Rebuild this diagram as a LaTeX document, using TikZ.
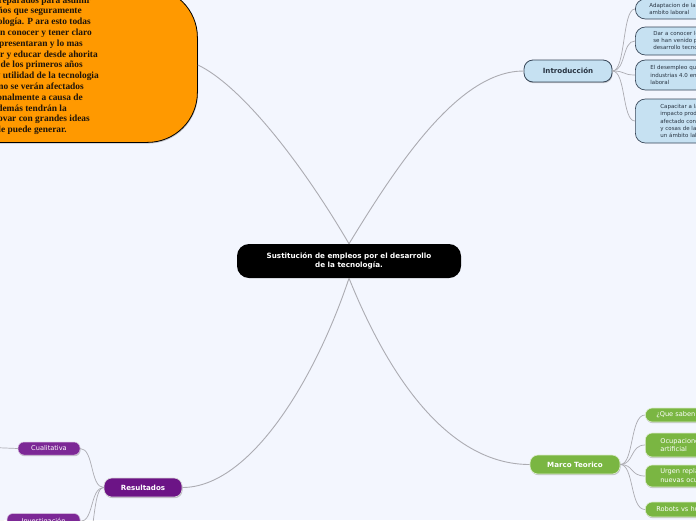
\documentclass[tikz,border=0pt]{standalone}
\usepackage{fontspec}
\setsansfont{DejaVu Sans}
\newfontfamily\timesfam{Liberation Serif}
\usetikzlibrary{shadows}
\definecolor{bgc}{RGB}{243,246,254}
\definecolor{connc}{RGB}{172,172,178}
\definecolor{introfill}{RGB}{198,225,242}
\definecolor{introline}{RGB}{55,70,88}
\definecolor{introtext}{RGB}{40,52,66}
\definecolor{greenfill}{RGB}{122,182,66}
\definecolor{purplefill}{RGB}{108,20,134}
\definecolor{purplechild}{RGB}{124,40,150}
\definecolor{orangefill}{RGB}{255,153,0}
\definecolor{orangetext}{RGB}{30,20,10}
\tikzset{
  conn/.style={draw=connc, line width=0.9pt},
  shad/.style={drop shadow={shadow xshift=0.6pt, shadow yshift=-1.2pt, opacity=0.35, fill=black!60}},
  centerbox/.style={fill=black, rounded corners=12pt, minimum width=224pt, minimum height=34pt,
    text=white, align=center, inner sep=0pt, font=\sffamily\bfseries\fontsize{7.2}{9}\selectfont},
  introbox/.style={shad, draw=introline, line width=0.8pt, fill=introfill, rounded corners=9pt,
    minimum width=88pt, minimum height=22pt, inner sep=0pt, text=introtext,
    font=\sffamily\bfseries\fontsize{7.1}{8}\selectfont},
  introchild/.style={draw=introline, line width=0.7pt, fill=introfill, rounded corners=10pt,
    anchor=west, align=left, text width=160pt, inner ysep=0pt, text=introtext,
    font=\sffamily\fontsize{5.5}{7.4}\selectfont},
  greenbox/.style={shad, draw=white!75!greenfill, line width=0.6pt, fill=greenfill, rounded corners=8pt,
    minimum width=90pt, minimum height=19pt, inner sep=0pt, text=white,
    font=\sffamily\bfseries\fontsize{7.1}{8}\selectfont},
  greenchild/.style={shad, draw=white!75!greenfill, line width=0.6pt, fill=greenfill, rounded corners=7pt,
    anchor=west, align=left, text width=200pt, inner ysep=0pt, text=white,
    font=\sffamily\fontsize{6.6}{8.8}\selectfont},
  purplebox/.style={shad, draw=white!70!gray, line width=0.6pt, fill=purplefill, rounded corners=8pt,
    minimum width=78pt, minimum height=19pt, inner sep=0pt, text=white,
    font=\sffamily\bfseries\fontsize{7.1}{8}\selectfont},
  purplechild/.style={shad, draw=white!70!purplechild, line width=0.5pt, fill=purplechild, rounded corners=6pt,
    inner sep=0pt, text=white, font=\sffamily\fontsize{6.6}{8}\selectfont},
  blobtext/.style={anchor=base east, inner sep=0pt, text=orangetext,
    font=\timesfam\bfseries\fontsize{9.4}{10.8}\selectfont}
}
\begin{document}
\begin{tikzpicture}[x=1pt,y=-1pt]
\useasboundingbox (0,0) rectangle (696,520);
\clip (0,0) rectangle (696,520);
\fill[bgc] (0,0) rectangle (696,520);

% orange blob
\node[shad, draw=black, line width=0.8pt, fill=orangefill, rounded corners=50pt,
  minimum width=277pt, minimum height=155pt, anchor=north west, inner sep=0pt] (blob) at (-80,-13) {};
\node[blobtext] (b0) at (91,3) {estar preparados para asumir};
\node[blobtext] (b1) at (82,13.8) {los años que seguramente};
\node[blobtext] (b2) at (91,24.6) {traerá la tecnología. P ara esto todas};
\node[blobtext] (b3) at (92,35.4) {las personas deben conocer y tener claro};
\node[blobtext] (b4) at (83,46.2) {los cambios que se presentaran y lo mas};
\node[blobtext] (b5) at (98,57) {importante es formar y educar desde ahorita};
\node[blobtext] (b6) at (83,67.8) {a los niños desde de los primeros años};
\node[blobtext] (b7) at (99,78.6) {en la importancia y  utilidad de la tecnologia};
\node[blobtext] (b8) at (84,89.4) {para que a futuro no se verán afectados};
\node[blobtext] (b9) at (83,100.2) {laboral y profesionalmente  a causa de};
\node[blobtext] (b10) at (67,111) {la tecnología y además tendrán la};
\node[blobtext] (b11) at (90,121.8) {capacidad de innovar con grandes ideas};
\node[blobtext] (b12) at (67,132.6) {que la tecnología le puede generar.};

% central node
\node[centerbox] (center) at (349,261) {Sustitución de empleos por el desarrollo\\de la tecnología.};

% level 1
\node[introbox] (intro) at (568,71) {Introducción};
\node[greenbox] (marco) at (575,464.5) {Marco Teorico};
\node[purplebox] (res) at (143,487.5) {Resultados};

% intro children
\node[introchild, minimum height=20pt, inner xsep=14pt] (i1) at (635,9) {Adaptacion de la tecnologia en el\\ambito laboral};
\node[introchild, minimum height=28pt, inner xsep=18pt] (i2) at (635,41) {Dar a conocer los cambios que\\se han venido presentando con el\\desarrollo tecnologico};
\node[introchild, minimum height=30pt, inner xsep=15pt] (i3) at (635,75) {El desempleo que generan las\\industrias 4.0 en el ámbito\\laboral};
\node[introchild, minimum height=44pt, inner xsep=25pt] (i4) at (635,121) {Capacitar a las personas sobre el\\impacto productivo que se ha\\afectado con los cambios\\y cosas de la tecnología en\\un ámbito laboral};

% marco children
\node[greenchild, minimum height=14pt, inner xsep=11pt] (g1) at (645,415) {¿Que saben las personas sobre la};
\node[greenchild, minimum height=24pt, inner xsep=15pt] (g2) at (645,445) {Ocupaciones en riesgo por la inteligencia\\artificial};
\node[greenchild, minimum height=22pt, inner xsep=15pt] (g3) at (645,476) {Urgen replantear las\\nuevas ocupaciones};
\node[greenchild, minimum height=15pt, inner xsep=11pt] (g4) at (645,509.5) {Robots vs humanos};

% resultados children
\node[purplechild, minimum width=62pt, minimum height=13pt] (cual) at (49,448.5) {Cualitativa};
\node[purplechild, minimum width=73pt, minimum height=16pt] (inv) at (43.5,521.5) {Investigación};
\coordinate (cualL) at (-20,447);
\coordinate (invL) at (-20,520);
\coordinate (res3) at (82,570);

% connectors from center
\draw[conn] (center.north) .. controls (400,160) and (460,71) .. (intro.west);
\draw[conn] (center.north) .. controls (300,160) and (240,85) .. (blob.east);
\draw[conn] (center.south) .. controls (390,380) and (450,464.5) .. (marco.west);
\draw[conn] (center.south) .. controls (315,380) and (250,487.5) .. (res.east);

% intro children connectors
\foreach \c in {i1,i2,i3,i4}{
  \draw[conn, line width=0.7pt] (intro.east) .. controls (626,71) and (622,0|-\c.west) .. (\c.west);
}
% marco children connectors
\foreach \c in {g1,g2,g3,g4}{
  \draw[conn, line width=0.7pt] (marco.east) .. controls (634,464.5) and (630,0|-\c.west) .. (\c.west);
}
% resultados children connectors
\draw[conn, line width=0.7pt] (res.west) .. controls (90,487.5) and (94,448.5) .. (cual.east);
\draw[conn, line width=0.7pt] (res.west) .. controls (90,487.5) and (94,521.5) .. (inv.east);
\draw[conn, line width=0.7pt] (res.west) .. controls (92,487.5) and (96,540) .. (res3);
\draw[conn, line width=0.7pt] (cual.west) -- (cualL);
\draw[conn, line width=0.7pt] (inv.west) -- (invL);
\end{tikzpicture}
\end{document}
